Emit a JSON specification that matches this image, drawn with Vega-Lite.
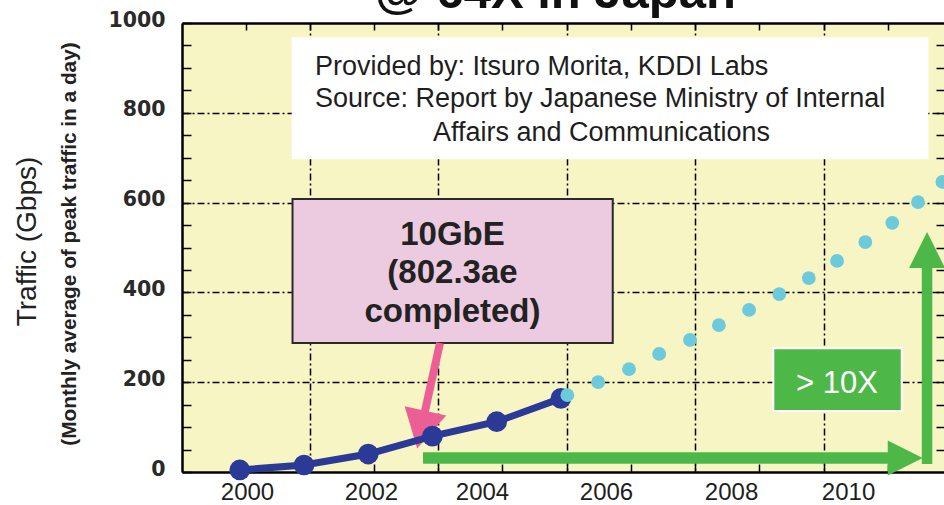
{
  "$schema": "https://vega.github.io/schema/vega-lite/v6.json",
  "autosize": {"type": "none"},
  "padding": {"left": 182, "top": 23, "right": 0, "bottom": 33},
  "width": 762,
  "height": 449,
  "background": "#ffffff",
  "config": {"view": {"stroke": null, "fill": "#f7f5c4"}, "font": "Liberation Sans"},
  "data": {"values": [{}]},
  "datasets": {
    "measured": [
      {"year": 2000, "traffic": 4.5},
      {"year": 2001, "traffic": 15.6},
      {"year": 2002, "traffic": 40},
      {"year": 2003, "traffic": 80},
      {"year": 2004, "traffic": 112},
      {"year": 2005, "traffic": 164}
    ],
    "projected": [
      {"year": 2005.1, "traffic": 171},
      {"year": 2005.58, "traffic": 200},
      {"year": 2006.06, "traffic": 229},
      {"year": 2006.53, "traffic": 263},
      {"year": 2007.01, "traffic": 294},
      {"year": 2007.46, "traffic": 327},
      {"year": 2007.93, "traffic": 361},
      {"year": 2008.4, "traffic": 396},
      {"year": 2008.86, "traffic": 432},
      {"year": 2009.3, "traffic": 470},
      {"year": 2009.74, "traffic": 512},
      {"year": 2010.16, "traffic": 555},
      {"year": 2010.56, "traffic": 601},
      {"year": 2010.94, "traffic": 646}
    ]
  },
  "resolve": {"axis": {"x": "independent", "y": "independent"}},
  "layer": [
    {
      "mark": {"type": "rect", "fill": "#ffffff", "strokeWidth": 0},
      "encoding": {
        "x": {"datum": 2000.808, "type": "quantitative", "scale": {"domain": [1999.1, 2010.965], "nice": false, "zero": false}, "axis": null},
        "x2": {"datum": 2010.721},
        "y": {"datum": 968.2, "type": "quantitative", "scale": {"domain": [0, 1000], "nice": false, "zero": false}, "axis": null},
        "y2": {"datum": 696.4}
      }
    },
    {
      "mark": {"type": "text", "text": ["Provided by: Itsuro Morita, KDDI Labs", "Source: Report by Japanese Ministry of Internal"], "align": "left", "baseline": "alphabetic", "fontSize": 27, "lineHeight": 32, "color": "#1e1e1e", "font": "Liberation Sans"},
      "encoding": {
        "x": {"datum": 2001.171, "type": "quantitative", "scale": {"domain": [1999.1, 2010.965], "nice": false, "zero": false}, "axis": null},
        "y": {"datum": 884.2, "type": "quantitative", "scale": {"domain": [0, 1000], "nice": false, "zero": false}, "axis": null}
      }
    },
    {
      "mark": {"type": "text", "text": "Affairs and Communications", "align": "center", "baseline": "alphabetic", "fontSize": 27, "color": "#1e1e1e", "font": "Liberation Sans"},
      "encoding": {
        "x": {"datum": 2005.632, "type": "quantitative", "scale": {"domain": [1999.1, 2010.965], "nice": false, "zero": false}, "axis": null},
        "y": {"datum": 737.2, "type": "quantitative", "scale": {"domain": [0, 1000], "nice": false, "zero": false}, "axis": null}
      }
    },
    {
      "mark": {"type": "rect", "fill": "#eccbe0", "stroke": "#2a2a2a", "strokeWidth": 2},
      "encoding": {
        "x": {"datum": 2000.821, "type": "quantitative", "scale": {"domain": [1999.1, 2010.965], "nice": false, "zero": false}, "axis": null},
        "x2": {"datum": 2005.807},
        "y": {"datum": 608.0, "type": "quantitative", "scale": {"domain": [0, 1000], "nice": false, "zero": false}, "axis": null},
        "y2": {"datum": 287.3}
      }
    },
    {
      "mark": {"type": "text", "text": ["10GbE", "(802.3ae", "completed)"], "align": "center", "baseline": "alphabetic", "fontSize": 33, "fontWeight": "bold", "lineHeight": 38.5, "color": "#222222", "font": "Liberation Sans"},
      "encoding": {
        "x": {"datum": 2003.312, "type": "quantitative", "scale": {"domain": [1999.1, 2010.965], "nice": false, "zero": false}, "axis": null},
        "y": {"datum": 505.6, "type": "quantitative", "scale": {"domain": [0, 1000], "nice": false, "zero": false}, "axis": null}
      }
    },
    {
      "mark": {"type": "rule", "color": "#4db848", "strokeWidth": 11.5, "strokeCap": "butt"},
      "encoding": {
        "x": {"datum": 2002.853, "type": "quantitative", "scale": {"domain": [1999.1, 2010.965], "nice": false, "zero": false}, "axis": null},
        "x2": {"datum": 2010.2},
        "y": {"datum": 31.2, "type": "quantitative", "scale": {"domain": [0, 1000], "nice": false, "zero": false}, "axis": null}
      }
    },
    {
      "mark": {"type": "rule", "color": "#4db848", "strokeWidth": 10.5, "strokeCap": "butt"},
      "encoding": {
        "x": {"datum": 2010.701, "type": "quantitative", "scale": {"domain": [1999.1, 2010.965], "nice": false, "zero": false}, "axis": null},
        "y": {"datum": 17.8, "type": "quantitative", "scale": {"domain": [0, 1000], "nice": false, "zero": false}, "axis": null},
        "y2": {"datum": 467.7}
      }
    },
    {
      "mark": {"type": "point", "shape": "M -1 -1 L 1 0 L -1 1 Z", "filled": true, "size": 1225, "color": "#4db848", "opacity": 1, "strokeWidth": 0},
      "encoding": {
        "x": {"datum": 2010.362, "type": "quantitative", "scale": {"domain": [1999.1, 2010.965], "nice": false, "zero": false}, "axis": null},
        "y": {"datum": 31.2, "type": "quantitative", "scale": {"domain": [0, 1000], "nice": false, "zero": false}, "axis": null}
      }
    },
    {
      "mark": {"type": "point", "shape": "M -1 1 L 0 -1 L 1 1 Z", "filled": true, "size": 1296, "color": "#4db848", "opacity": 1, "strokeWidth": 0},
      "encoding": {
        "x": {"datum": 2010.701, "type": "quantitative", "scale": {"domain": [1999.1, 2010.965], "nice": false, "zero": false}, "axis": null},
        "y": {"datum": 494.4, "type": "quantitative", "scale": {"domain": [0, 1000], "nice": false, "zero": false}, "axis": null}
      }
    },
    {
      "mark": {"type": "rect", "fill": "#4db848", "stroke": "#ffffff", "strokeWidth": 2},
      "encoding": {
        "x": {"datum": 2008.307, "type": "quantitative", "scale": {"domain": [1999.1, 2010.965], "nice": false, "zero": false}, "axis": null},
        "x2": {"datum": 2010.307},
        "y": {"datum": 275.5, "type": "quantitative", "scale": {"domain": [0, 1000], "nice": false, "zero": false}, "axis": null},
        "y2": {"datum": 135.9}
      }
    },
    {
      "mark": {"type": "text", "text": "> 10X", "align": "center", "baseline": "alphabetic", "fontSize": 31, "color": "#ffffff", "font": "Liberation Sans"},
      "encoding": {
        "x": {"datum": 2009.299, "type": "quantitative", "scale": {"domain": [1999.1, 2010.965], "nice": false, "zero": false}, "axis": null},
        "y": {"datum": 175.9, "type": "quantitative", "scale": {"domain": [0, 1000], "nice": false, "zero": false}, "axis": null}
      }
    },
    {
      "mark": {"type": "rule", "color": "#ec5f94", "strokeWidth": 8, "strokeCap": "butt"},
      "encoding": {
        "x": {"datum": 2003.117, "type": "quantitative", "scale": {"domain": [1999.1, 2010.965], "nice": false, "zero": false}, "axis": null},
        "x2": {"datum": 2002.853},
        "y": {"datum": 287.3, "type": "quantitative", "scale": {"domain": [0, 1000], "nice": false, "zero": false}, "axis": null},
        "y2": {"datum": 115.8}
      }
    },
    {
      "mark": {"type": "point", "shape": "M -1 -0.906 L 1 -0.906 L 0 0.906 Z", "filled": true, "size": 1806, "angle": 12.4, "color": "#ec5f94", "opacity": 1, "strokeWidth": 0},
      "encoding": {
        "x": {"datum": 2002.826, "type": "quantitative", "scale": {"domain": [1999.1, 2010.965], "nice": false, "zero": false}, "axis": null},
        "y": {"datum": 94.4, "type": "quantitative", "scale": {"domain": [0, 1000], "nice": false, "zero": false}, "axis": null}
      }
    },
    {
      "mark": {"type": "text", "text": "@ 64X in Japan", "align": "left", "baseline": "alphabetic", "fontSize": 49, "fontWeight": "bold", "color": "#111111", "font": "Liberation Sans"},
      "encoding": {
        "x": {"datum": 2002.105, "type": "quantitative", "scale": {"domain": [1999.1, 2010.965], "nice": false, "zero": false}, "axis": null},
        "y": {"datum": 1034.5, "type": "quantitative", "scale": {"domain": [0, 1000], "nice": false, "zero": false},
          "axis": {"orient": "left", "labels": false, "ticks": false, "domain": false, "grid": false,
            "title": "(Monthly average of peak traffic in a day)", "titleFont": "Liberation Sans", "titleFontSize": 20.8, "titleFontWeight": "bold", "titleColor": "#222222",
            "titleAngle": 270, "titleAlign": "center", "titleBaseline": "middle", "titleX": -112.6, "titleY": 220.5}}
      }
    },
    {
      "data": {"name": "measured"},
      "mark": {"type": "line", "color": "#2b3a97", "strokeWidth": 7},
      "encoding": {
        "x": {"field": "year", "type": "quantitative", "scale": {"domain": [1999.1, 2010.965], "nice": false, "zero": false},
          "axis": {"orient": "bottom", "values": [2000.09, 2001.09, 2002.09, 2003.09, 2004.09, 2005.09, 2006.09, 2007.09, 2008.09, 2009.09, 2010.09],
            "labels": false, "ticks": true, "tickSize": -8, "tickWidth": 1.5, "tickColor": "#000000",
            "domain": true, "domainColor": "#000000", "domainWidth": 2.5,
            "grid": true, "gridColor": "#000000", "gridWidth": 1.5, "gridDash": [7, 3, 2, 3],
            "gridOpacity": {"condition": {"test": "round(datum.value) % 2 == 1", "value": 1}, "value": 0},
            "title": null}},
        "y": {"field": "traffic", "type": "quantitative", "scale": {"domain": [0, 1000], "nice": false, "zero": false},
          "axis": {"orient": "left", "values": [0, 50, 100, 150, 200, 250, 300, 350, 400, 450, 500, 550, 600, 650, 700, 750, 800, 850, 900, 950, 1000],
            "labels": false, "ticks": true, "tickSize": -9, "tickWidth": 1.5, "tickColor": "#000000",
            "domain": true, "domainColor": "#000000", "domainWidth": 2.5,
            "grid": true, "gridColor": "#000000", "gridWidth": 1.5, "gridDash": [7, 3, 2, 3],
            "gridOpacity": {"condition": {"test": "datum.value % 200 == 0 && datum.value > 0 && datum.value < 1000", "value": 1}, "value": 0},
            "title": null}}
      }
    },
    {
      "data": {"name": "measured"},
      "mark": {"type": "point", "filled": true, "size": 430, "color": "#2b3a97", "opacity": 1, "shape": "circle"},
      "encoding": {
        "x": {"field": "year", "type": "quantitative", "scale": {"domain": [1999.1, 2010.965], "nice": false, "zero": false},
          "axis": {"orient": "top", "values": [2000.09, 2001.09, 2002.09, 2003.09, 2004.09, 2005.09, 2006.09, 2007.09, 2008.09, 2009.09, 2010.09],
            "labels": false, "ticks": true, "tickSize": -7, "tickWidth": 1.5, "tickColor": "#000000",
            "domain": true, "domainColor": "#000000", "domainWidth": 2.5, "grid": false, "title": null}},
        "y": {"field": "traffic", "type": "quantitative", "scale": {"domain": [0, 1000], "nice": false, "zero": false},
          "axis": {"orient": "right", "values": [50, 100, 150, 200, 250, 300, 350, 400, 450, 500, 550, 600, 650, 700, 750, 800, 850, 900, 950],
            "labels": false, "ticks": true, "tickSize": -8, "tickWidth": 1.5, "tickColor": "#000000",
            "domain": false, "grid": false, "title": null}}
      }
    },
    {
      "data": {"name": "projected"},
      "mark": {"type": "point", "filled": true, "size": 190, "color": "#6ccadb", "opacity": 1, "shape": "circle"},
      "encoding": {
        "x": {"field": "year", "type": "quantitative", "scale": {"domain": [1999.1, 2010.965], "nice": false, "zero": false},
          "axis": {"orient": "bottom", "values": [2000.112, 2002.043, 2003.771, 2005.702, 2007.649, 2009.471],
            "labelExpr": "'' + round(datum.value / 2) * 2",
            "ticks": false, "domain": false, "grid": false,
            "labelFont": "Liberation Sans", "labelFontSize": 24, "labelColor": "#1e1e1e", "labelPadding": 8,
            "labelFlush": false, "labelOverlap": false, "labelBound": false, "title": null}},
        "y": {"field": "traffic", "type": "quantitative", "scale": {"domain": [0, 1000], "nice": false, "zero": false},
          "axis": {"orient": "left", "values": [0, 200, 400, 600, 800, 1000], "format": "d",
            "ticks": false, "domain": false, "grid": false,
            "labelFont": "DejaVu Sans", "labelFontWeight": "bold", "labelFontSize": 20.5, "labelColor": "#2a2a2a",
            "labelPadding": 17, "labelOffset": -3, "labelFlush": false, "labelOverlap": false,
            "title": "Traffic (Gbps)", "titleFont": "Liberation Sans", "titleFontSize": 28, "titleFontWeight": "normal", "titleColor": "#222222",
            "titleAngle": 270, "titleAlign": "center", "titleBaseline": "middle", "titleX": -154.4, "titleY": 218}}
      }
    }
  ]
}
